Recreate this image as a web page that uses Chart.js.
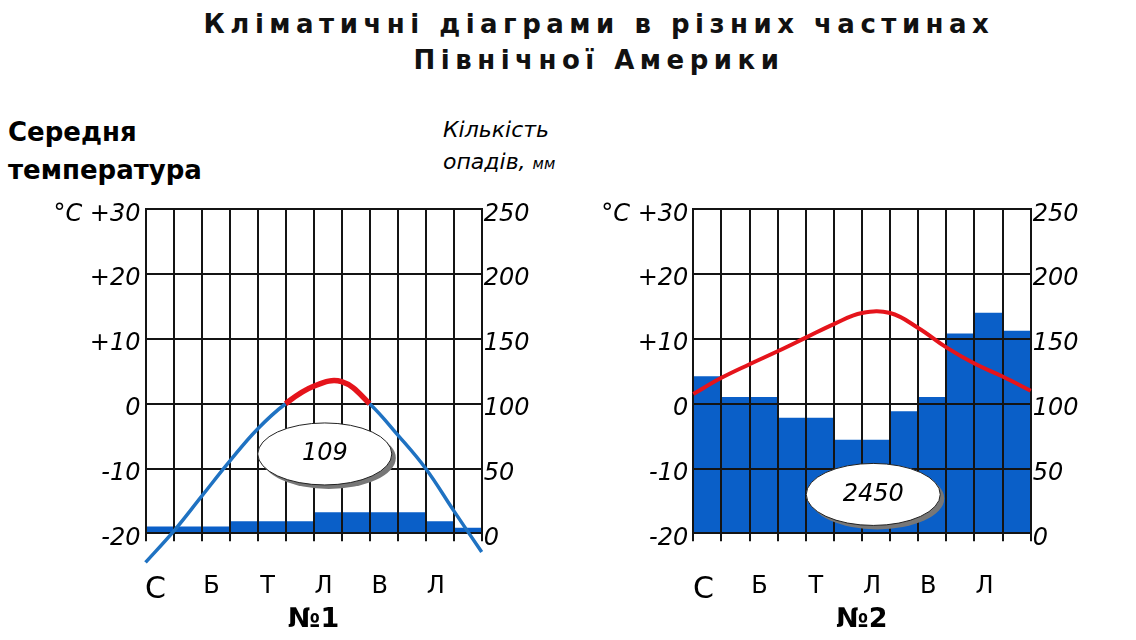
<!DOCTYPE html>
<html lang="uk">
<head>
<meta charset="utf-8">
<title>Кліматичні діаграми</title>
<script src="https://cdn.jsdelivr.net/npm/chart.js@4.4.1/dist/chart.umd.min.js"></script>
<style>
  html, body { margin: 0; padding: 0; background: #fff; }
  body { width: 1136px; height: 640px; position: relative; overflow: hidden; font-family: "DejaVu Sans", sans-serif; }
  #title { position: absolute; left: 31px; top: 6px; width: 1136px; text-align: center;
           font: bold 26px/36px "DejaVu Sans", sans-serif; letter-spacing: 5.5px; color: #111; }
  #tempLabel { position: absolute; left: 8px; top: 113px; font: bold 26px/38px "DejaVu Sans", sans-serif; color: #000; }
  #precLabel { position: absolute; left: 443px; top: 114px; font: italic 22px/32px "DejaVu Sans", sans-serif; color: #000; }
  #precLabel small { font-size: 15px; }
  canvas { position: absolute; top: 190px; }
  #c1 { left: 0; }
  #c2 { left: 568px; }
</style>
</head>
<body>
<div id="title">Кліматичні діаграми в різних частинах<br>Північної Америки</div>
<div id="tempLabel">Середня<br>температура</div>
<div id="precLabel">Кількість<br>опадів, <small>мм</small></div>
<canvas id="c1" width="568" height="450"></canvas>
<canvas id="c2" width="568" height="450"></canvas>

<script>
// month initials (every other month is signed)
var months = ['С', '', 'Б', '', 'Т', '', 'Л', '', 'В', '', 'Л', ''];

// precipitation, mm per month
var precip1 = [5, 5, 5, 9, 9, 9, 16, 16, 16, 16, 9, 4];
var precip2 = [121, 105, 105, 89, 89, 72, 72, 94, 105, 154, 170, 156];

// temperature curve, read at the month boundaries (0..12)
var temp1 = [-24.5, -19.7, -14.3, -8.9, -3.9, 0, 2.7, 3.4, 0, -4.8, -10, -16.5, -22.9];
var temp2 = [1.5, 4.0, 6.1, 8.1, 10.2, 12.3, 14.0, 14.0, 11.7, 8.7, 6.2, 4.2, 2.0];

var totals = ['109', '2450'];

var tempTicks = [-20, -10, 0, 10, 20, 30];
var tempTickLabels = ['-20', '-10', '0', '+10', '+20', '°C +30'];
var precipTicks = [0, 50, 100, 150, 200, 250];

var BLUE_BAR = '#0a5fc8';
var BLUE_LINE = '#1f72c2';
var RED = '#e5141b';
var GRID = '#141414';

function overlay(total, ex, ey) {
    return {
        id: 'overlay',
        beforeDatasetDraw: function(chart, args) {
            // temperature line goes on top of the grid, see afterDraw
            if (args.index === 1) return false;
        },
        afterDraw: function(chart) {
            var ctx = chart.ctx;
            ctx.save();
            chart.getDatasetMeta(1).controller.draw();
            ctx.restore();

            // annual precipitation bubble
            var cx = chart.scales.xl.getPixelForValue(ex);
            var cy = chart.scales.y.getPixelForValue(ey);
            ctx.save();
            ctx.fillStyle = '#777';
            ctx.beginPath();
            ctx.ellipse(cx + 4, cy + 4, 67, 31, 0, 0, Math.PI * 2);
            ctx.fill();
            ctx.fillStyle = '#fff';
            ctx.strokeStyle = '#222';
            ctx.lineWidth = 1;
            ctx.beginPath();
            ctx.ellipse(cx, cy, 67, 31, 0, 0, Math.PI * 2);
            ctx.fill();
            ctx.stroke();
            ctx.fillStyle = '#000';
            ctx.font = 'italic 24px "DejaVu Sans"';
            ctx.textAlign = 'center';
            ctx.textBaseline = 'middle';
            ctx.fillText(total, cx, cy);
            ctx.restore();
        }
    };
}

function drawClimate(id, precip, temp, total, name, leftW, rightW, ex, ey, twoColour) {
    var ctx = document.getElementById(id).getContext('2d');
    var seg = {};
    if (twoColour) {
        seg = {
            borderColor: function(c) { return (c.p0.parsed.y >= 0 && c.p1.parsed.y >= 0) ? RED : BLUE_LINE; },
            borderWidth: function(c) { return (c.p0.parsed.y >= 0 && c.p1.parsed.y >= 0) ? 5.5 : 3.5; }
        };
    }
    return new Chart(ctx, {
        type: 'bar',
        data: {
            labels: months,
            datasets: [{
                type: 'bar',
                data: precip,
                xAxisID: 'x',
                yAxisID: 'y1',
                backgroundColor: BLUE_BAR,
                borderWidth: 0,
                grouped: false,
                barPercentage: 1,
                categoryPercentage: 1
            }, {
                type: 'line',
                data: temp.map(function(v, i) { return {x: i, y: v}; }),
                xAxisID: 'xl',
                yAxisID: 'y',
                borderColor: twoColour ? BLUE_LINE : RED,
                borderWidth: twoColour ? 3.5 : 4,
                tension: 0.4,
                pointRadius: 0,
                clip: false,
                segment: seg
            }]
        },
        options: {
            responsive: false,
            animation: false,
            layout: { padding: { top: 17.5, left: 0, right: 0, bottom: 0 } },
            plugins: { legend: { display: false }, tooltip: { enabled: false } },
            scales: {
                x: {
                    type: 'category',
                    offset: true,
                    grid: { offset: true, color: GRID, lineWidth: 2, tickLength: 8, tickColor: GRID, z: 1 },
                    border: { color: GRID, width: 2, z: 1 },
                    ticks: {
                        autoSkip: false, maxRotation: 0, padding: 31, labelOffset: -4, color: '#000',
                        font: function(c) {
                            return c.index === 0 ? { family: 'DejaVu Sans', size: 30 } : { family: 'DejaVu Sans', size: 24 };
                        }
                    },
                    title: {
                        display: true, text: name, color: '#000',
                        font: { family: 'DejaVu Sans', weight: 'bold', size: 27 },
                        padding: { top: 0, bottom: 4 }
                    },
                    afterFit: function(s) { s.height = 106.7; }
                },
                xl: {
                    type: 'linear', min: 0, max: 12, offset: false, display: false,
                    grid: { display: false, offset: false }, border: { display: false }
                },
                y: {
                    position: 'left',
                    min: -20, max: 30,
                    afterBuildTicks: function(s) { s.ticks = tempTicks.map(function(v) { return {value: v}; }); },
                    ticks: {
                        padding: 5, labelOffset: 5, color: '#000',
                        font: { family: 'DejaVu Sans', style: 'italic', size: 24 },
                        callback: function(v) { return tempTickLabels[tempTicks.indexOf(v)]; }
                    },
                    grid: { color: GRID, lineWidth: 2, drawTicks: false, z: 1 },
                    border: { color: GRID, width: 2, z: 1 },
                    afterFit: function(s) { s.width = leftW; }
                },
                y1: {
                    position: 'right',
                    min: 0, max: 250,
                    afterBuildTicks: function(s) { s.ticks = precipTicks.map(function(v) { return {value: v}; }); },
                    ticks: {
                        padding: 2, labelOffset: 5, color: '#000',
                        font: { family: 'DejaVu Sans', style: 'italic', size: 24 }
                    },
                    grid: { drawOnChartArea: false, drawTicks: false, z: 1 },
                    border: { color: GRID, width: 2, z: 1 },
                    afterFit: function(s) { s.width = rightW; }
                }
            }
        },
        plugins: [overlay(total, ex, ey)]
    });
}

window.addEventListener('load', function() {
    drawClimate('c1', precip1, temp1, totals[0], '№1', 145.5, 86.3, 6.4, -7.75, true);
    drawClimate('c2', precip2, temp2, totals[1], '№2', 125.3, 105.3, 6.4, -14.0, false);
});
</script>
</body>
</html>
